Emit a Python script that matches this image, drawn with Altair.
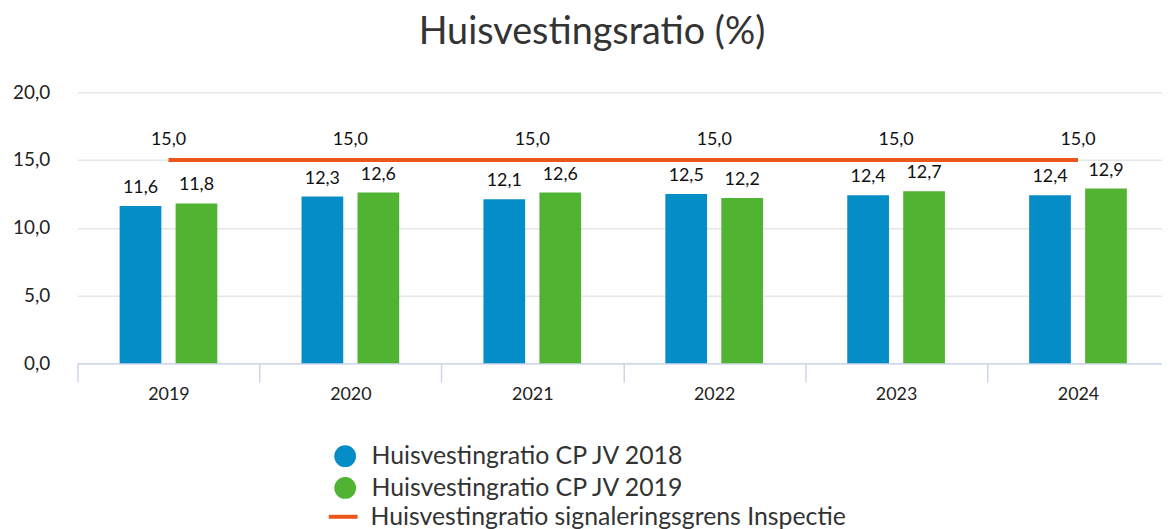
import altair as alt
import pandas as pd

years = ["2019", "2020", "2021", "2022", "2023", "2024"]
jv2018 = [11.6, 12.3, 12.1, 12.5, 12.4, 12.4]
jv2019 = [11.8, 12.6, 12.6, 12.2, 12.7, 12.9]
grens = [15.0, 15.0, 15.0, 15.0, 15.0, 15.0]

s1 = "Huisvestingratio CP JV 2018"
s2 = "Huisvestingratio CP JV 2019"
s3 = "Huisvestingratio signaleringsgrens Inspectie"

bars_df = pd.DataFrame(
    [{"jaar": y, "serie": s1, "waarde": v} for y, v in zip(years, jv2018)]
    + [{"jaar": y, "serie": s2, "waarde": v} for y, v in zip(years, jv2019)]
)
line_df = pd.DataFrame({"jaar": years, "serie": s3, "waarde": grens})

FONT = "Lato"
fmt = "replace(format(datum.waarde, '.1f'), '.', ',')"

x_enc = alt.X(
    "jaar:N",
    sort=years,
    scale=alt.Scale(paddingInner=0, paddingOuter=0, range=[0, 1099]),
    axis=alt.Axis(
        title=None,
        labelAngle=0,
        labelFontSize=18,
        labelColor="#222",
        labelFont=FONT,
        domainColor="#ccd6eb",
        domainWidth=1.5,
        tickColor="#ccd6eb",
        tickWidth=1.5,
        tickSize=19,
        tickBand="extent",
        labelPadding=3,
        grid=False,
    ),
)
y_enc = alt.Y(
    "waarde:Q",
    scale=alt.Scale(domain=[0, 20], nice=False),
    axis=alt.Axis(
        title=None,
        values=[0, 5, 10, 15, 20],
        labelExpr="replace(format(datum.value, '.1f'), '.', ',')",
        labelFontSize=19,
        labelColor="#222",
        labelFont=FONT,
        labelPadding=28,
        domain=False,
        ticks=False,
        gridColor="#e6e6e6",
        gridWidth=1.5,
    ),
)

base_bars = alt.Chart(bars_df).encode(
    x=x_enc,
    xOffset=alt.XOffset("serie:N", sort=[s1, s2],
                        scale=alt.Scale(paddingInner=0.25, paddingOuter=0.75)),
    y=y_enc,
)

legend_common = dict(
    title=None,
    orient="none",
    labelFontSize=25,
    labelFont=FONT,
    labelColor="#333",
    labelLimit=0,
    padding=0,
)

bars = base_bars.mark_bar(width=42).encode(
    color=alt.Color(
        "serie:N",
        scale=alt.Scale(domain=[s1, s2], range=["#058DC7", "#50B432"]),
        legend=alt.Legend(
            legendX=257,
            legendY=354,
            symbolType="circle",
            symbolSize=480,
            symbolStrokeWidth=0,
            labelOffset=14,
            rowPadding=6,
            **legend_common,
        ),
    )
)

bar_labels = base_bars.mark_text(
    baseline="bottom", dy=-9, fontSize=18, font=FONT, color="#111"
).encode(text=alt.Text("lbl:N")).transform_calculate(lbl=fmt)

base_line = alt.Chart(line_df).encode(
    x=alt.X("jaar:N", sort=years), y=alt.Y("waarde:Q")
)
line = base_line.mark_line(strokeWidth=4).encode(
    stroke=alt.Stroke(
        "serie:N",
        scale=alt.Scale(domain=[s3], range=["#ED561B"]),
        legend=alt.Legend(
            legendX=251,
            legendY=411,
            symbolType="stroke",
            symbolSize=841,
            symbolStrokeWidth=4,
            labelOffset=11,
            **legend_common,
        ),
    )
)
line_labels = base_line.mark_text(
    baseline="bottom", dy=-11, fontSize=18, font=FONT, color="#111"
).encode(text=alt.Text("lbl:N")).transform_calculate(lbl=fmt)

chart = (
    alt.layer(bars, bar_labels, line, line_labels)
    .properties(
        width=1092,
        height=273,
        autosize=alt.AutoSizeParams(type="none"),
        padding={"left": 70, "top": 83, "right": 0, "bottom": 165},
        title=alt.TitleParams(
            "Huisvestingsratio (%)",
            fontSize=38,
            font=FONT,
            fontWeight="normal",
            color="#333",
            anchor="middle",
            offset=32,
            dx=-28,
        ),
    )
    .configure_view(stroke=None)
)

chart.save("out.html", embed_options={"renderer": "svg", "actions": False})
